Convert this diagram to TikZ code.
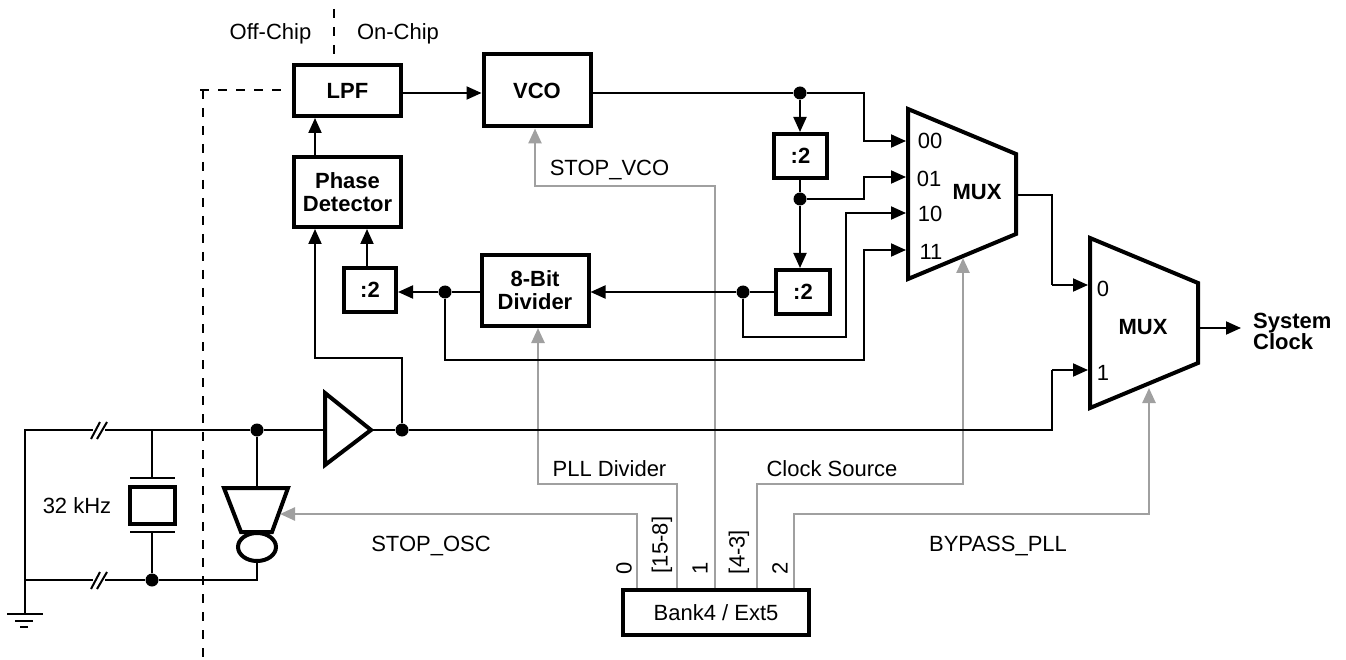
\documentclass[tikz,border=0pt]{standalone}
\usepackage{fontspec}
\setmainfont{Liberation Sans}
\usetikzlibrary{arrows.meta,calc,shapes.geometric}
\tikzset{
  boxn/.style={draw=black,line width=4pt,fill=white,inner sep=0pt,align=center,font=\fontsize{22}{23}\selectfont\bfseries,minimum width=#1},
  boxn/.default=52pt,
  txt/.style={inner sep=0pt,font=\fontsize{22}{23}\selectfont},
  btxt/.style={inner sep=0pt,align=left,font=\fontsize{22}{21}\selectfont\bfseries},
  wire/.style={draw=black,line width=2pt,line join=miter},
  mainw/.style={draw=black,line width=2.5pt},
  arr/.style={wire,-{Triangle[length=15pt,width=13pt]}},
  garr/.style={draw=gline,line width=2.5pt,-{Triangle[length=15pt,width=13pt]}},
  heavy/.style={draw=black,line width=4pt,line join=miter},
  dashl/.style={draw=black,line width=2.5pt,dash pattern=on 9pt off 9pt},
  dot/.style={circle,fill=black,inner sep=0pt,minimum size=13pt},
}
\definecolor{gline}{HTML}{A0A0A0}
\begin{document}
\begin{tikzpicture}[x=1pt,y=-1pt]
\useasboundingbox (0,0) rectangle (1346,660);
% boxes
\node[boxn=107pt,minimum height=51pt] (lpf) at (347.5,90.5) {LPF};
\node[boxn=107pt,minimum height=70pt] (pd) at (347.5,192) {Phase\\Detector};
\node[boxn=52pt,minimum height=44pt] (d2l) at (370,290) {:2};
\node[boxn=107pt,minimum height=72pt] (vco) at (537,90.5) {VCO};
\node[boxn=107pt,minimum height=71pt] (div) at (535,290.5) {8-Bit\\Divider};
\node[boxn=53pt,minimum height=44pt] (d2a) at (800.5,156) {:2};
\node[boxn=54pt,minimum height=44pt] (d2b) at (803,292) {:2};
\node[boxn=186pt,minimum height=45pt,font=\fontsize{22}{23}\selectfont] (bank) at (716,612.5) {Bank4 / Ext5};
\node[boxn=45pt,minimum height=37pt] (xtal) at (152.5,505.5) {};
% mux 1, mux 2, buffer, oscillator
\draw[heavy] (908,109) coordinate (m1tl) -- (1016,154) -- (1016,234) -- (908,279) coordinate (m1bl) -- cycle;
\draw[heavy] (1090,238) coordinate (m2tl) -- (1198,283) -- (1198,363) -- (1090,408) coordinate (m2bl) -- cycle;
\draw[heavy] (325,393) -- (371,430) coordinate (buft) -- (325,465) -- cycle;
\draw[heavy] (224,488) -- (288,488) -- (272,532) -- (241,532) -- cycle;
\node[draw=black,line width=4pt,ellipse,minimum width=38pt,minimum height=28pt,inner sep=0pt,fill=white] (osc) at (257,547) {};
% named junctions and ends
\coordinate (m1o0) at (906,141); \coordinate (m1o1) at (906,177);
\coordinate (m1o2) at (906,213); \coordinate (m1o3) at (906,250);
\coordinate (m1out) at (1018,195);
\coordinate (m1s) at (963,258);
\coordinate (m2i0) at (1088,285); \coordinate (m2i1) at (1088,370);
\coordinate (m2out) at (1200,328);
\coordinate (m2s) at (1149,388);
\coordinate (ampgrey) at (280,514);
\coordinate (ampin) at (257,487);
\coordinate (buf0) at (325,430);
% grey control lines
\draw[garr] (bank.north -| 637,0) |- (ampgrey);
\draw[garr] (bank.north -| 677,0) -- (677,484) -| (div.south -| 538,0);
\draw[garr] (bank.north -| 715,0) -- (715,186) -| (vco.south -| 535,0);
\draw[garr] (bank.north -| 757,0) -- (757,484) -| (m1s);
\draw[garr] (bank.north -| 794,0) -- (794,514) -| (m2s);
% dashed boundary
\coordinate (dt) at (334,9); \coordinate (db) at (334,55);
\coordinate (dl) at (282,90); \coordinate (dc) at (200,90);
\coordinate (dv) at (203,90); \coordinate (de) at (203,660);
\draw[dashl] (dt) -- (db);
\draw[dashl] (dc) -- (dl);
\draw[dashl] (dv) -- (de);
% junctions
\node[dot] (jv) at (800,93) {};
\node[dot] (jd) at (800,199) {};
\node[dot] (jb) at (743,292) {};
\node[dot] (jl) at (445,292) {};
\node[dot] (jbuf) at (402,430) {};
\node[dot] (jamp) at (257,430) {};
\node[dot] (jx) at (152,580) {};
% black wiring
\draw[arr] (lpf.east |- 0,93) -- (vco.west |- 0,93);
\draw[wire] (vco.east |- 0,93) -- (jv);
\draw[arr] (jv) -- (d2a.north -| jv);
\draw[arr] (jv) -- (864,93) -- (864,141) -- (m1o0);
\draw[wire] (d2a.south -| jd) -- (jd);
\draw[arr] (jd) -- (864,199) -- (864,177) -- (m1o1);
\draw[arr] (jd) -- (d2b.north -| jd);
\draw[wire] (d2b.west |- jb) -- (jb);
\draw[arr] (jb) -- (div.east |- jb);
\draw[arr] (jb) -- (743,337) -- (846,337) -- (846,213) -- (m1o2);
\draw[wire] (div.west |- jl) -- (jl);
\draw[arr] (jl) -- (d2l.east |- jl);
\draw[arr] (jl) -- (445,360) -- (864,360) -- (864,250) -- (m1o3);
\draw[arr] (d2l.north -| 367,0) -- (pd.south -| 367,0);
\draw[arr] (pd.north -| 315,0) -- (lpf.south -| 315,0);
\draw[arr] (jbuf) -- (402,358) -- (315,358) -- (pd.south -| 315,0);
\draw[mainw] (buft) -- (jbuf);
\draw[wire] (jbuf) -- (1052,430) -- (1052,370);
\draw[arr] (1052,370) -- (m2i1);
\draw[mainw] (jbuf) -- (1052,430);
\draw[wire] (m1out) -- (1052,195) -- (1052,285);
\draw[arr] (1052,285) -- (m2i0);
\draw[arr] (m2out) -- (1241,328);
% oscillator section
\coordinate (tl) at (25,430); \coordinate (bl) at (25,580); \coordinate (gnd) at (25,614);
\coordinate (s1) at (93,430); \coordinate (s2) at (105,430);
\coordinate (s3) at (93,580); \coordinate (s4) at (105,580);
\draw[wire] (gnd) -- (tl) -- (s1);
\draw[mainw] (s2) -- (jamp);
\draw[mainw] (jamp) -- (buf0);
\draw[wire] (bl) -- (s3);
\draw[wire] (s4) -- (jx);
\draw[wire] (jx) -- (257,580) -- (osc.south);
\draw[wire] (jamp) -- (ampin);
\foreach \yy in {430,580} {
  \draw[wire] (91,\yy+9) -- (100,\yy-8);
  \draw[wire] (97,\yy+9) -- (107,\yy-8);
}
\draw[wire] (152,430) -- (152,478);
\draw[wire] (130,478) -- (175,478);
\draw[wire] (130,532) -- (175,532);
\draw[wire] (152,532) -- (jx);
\draw[wire] (7,614) -- (43,614);
\draw[wire] (15,620.5) -- (33,620.5);
\draw[wire] (20,627) -- (28,627);
% labels
\node[txt] (offc) at (270.5,34) {Off-Chip};
\node[txt] (onc) at (398,34) {On-Chip};
\node[txt] (lkhz) at (77,506) {32 kHz};
\node[txt] (lsv) at (609.5,170) {STOP\_VCO};
\node[txt] (lpd) at (609.5,469) {PLL Divider};
\node[txt] (lcs) at (832,469) {Clock Source};
\node[txt] (lso) at (431,546) {STOP\_OSC};
\node[txt] (lbp) at (998,546) {BYPASS\_PLL};
\node[txt,rotate=90] (r0) at (624,568) {0};
\node[txt,rotate=90] (r1) at (662,545) {[15-8]};
\node[txt,rotate=90] (r2) at (700,568) {1};
\node[txt,rotate=90] (r3) at (739,552) {[4-3]};
\node[txt,rotate=90] (r4) at (780,568) {2};
\node[txt] (n00) at (930,141) {00};
\node[txt] (n01) at (929,179) {01};
\node[txt] (n10) at (930,214) {10};
\node[txt] (n11) at (931,252) {11};
\node[txt,font=\fontsize{22}{23}\selectfont\bfseries] (mx1) at (977,192) {MUX};
\node[txt,font=\fontsize{22}{23}\selectfont\bfseries] (mx2) at (1143,327) {MUX};
\node[txt] (n0) at (1103,289) {0};
\node[txt] (n1) at (1103,373) {1};
\node[btxt,anchor=west] (sc) at (1253,331) {System\\Clock};
\end{tikzpicture}
\end{document}
